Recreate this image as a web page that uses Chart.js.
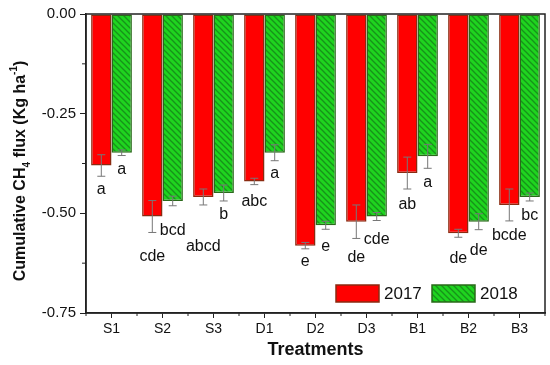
<!DOCTYPE html>
<html>
<head>
<meta charset="utf-8">
<script src="https://cdn.jsdelivr.net/npm/chart.js@4.4.1/dist/chart.umd.min.js"></script>
<style>
html,body{margin:0;padding:0;background:#fff;}
#wrap{width:550px;height:365px;}
</style>
</head>
<body>
<div id="wrap"><canvas id="c" width="550" height="365"></canvas></div>
<script>
// ---- data ----
const categories = ['S1','S2','S3','D1','D2','D3','B1','B2','B3'];
const seriesNames = ['2017','2018'];
const values2017 = [-0.380,-0.508,-0.459,-0.420,-0.581,-0.521,-0.399,-0.550,-0.479];
const values2018 = [-0.348,-0.469,-0.449,-0.348,-0.530,-0.508,-0.357,-0.521,-0.459];
const errors2017 = [0.027,0.040,0.020,0.008,0.008,0.042,0.040,0.010,0.040];
const errors2018 = [0.007,0.012,0.020,0.020,0.010,0.010,0.030,0.020,0.010];
const letters2017 = ['a','cde','abcd','abc','e','de','ab','de','bcde'];
const letters2018 = ['a','bcd','b','a','e','cde','a','de','bc'];
const yTicks = [0,-0.25,-0.5,-0.75];

// ---- hatch pattern ----
function makeHatch(){
  const s = 6;
  const p = document.createElement('canvas');
  p.width = s; p.height = s;
  const g = p.getContext('2d');
  g.fillStyle = '#1fd41f';
  g.fillRect(0,0,s,s);
  g.strokeStyle = '#17921a';
  g.lineWidth = 1.3;
  g.beginPath();
  g.moveTo(-1,-1); g.lineTo(s+1,s+1);
  g.moveTo(-1,s-1); g.lineTo(1,s+1);
  g.moveTo(s-1,-1); g.lineTo(s+1,1);
  g.stroke();
  return document.getElementById('c').getContext('2d').createPattern(p,'repeat');
}
const hatch = makeHatch();
const redFill = '#ff0000';
const redBorder = '#8a2a10';
const greenBorder = '#2a6a1a';

const FONT = "'Liberation Sans', Arial, sans-serif";

const extras = {
  id:'extras',
  afterDatasetsDraw(chart){
    const ctx = chart.ctx;
    const ca = chart.chartArea;
    const y = chart.scales.y, x = chart.scales.x;
    const errs = [errors2017, errors2018];
    const lets = [letters2017, letters2018];
    const gaps = [
      [13,24,42,17,13,19,16,21,15],
      [14,25,14,13,17,19,14,21,15]
    ];
    ctx.save();
    chart.data.datasets.forEach((ds,di)=>{
      const meta = chart.getDatasetMeta(di);
      meta.data.forEach((bar,i)=>{
        const v = ds.data[i], e = errs[di][i];
        const cx = bar.x;
        const yt = y.getPixelForValue(v+e), yb = y.getPixelForValue(v-e);
        ctx.strokeStyle = '#777';
        ctx.lineWidth = 1;
        ctx.beginPath();
        ctx.moveTo(cx,yt); ctx.lineTo(cx,yb);
        ctx.moveTo(cx-4,yt); ctx.lineTo(cx+4,yt);
        ctx.moveTo(cx-4,yb); ctx.lineTo(cx+4,yb);
        ctx.stroke();
        ctx.fillStyle = '#111';
        ctx.font = '16px ' + FONT;
        ctx.textAlign = 'center';
        ctx.textBaseline = 'middle';
        ctx.fillText(lets[di][i], cx, yb + gaps[di][i]);
      });
    });
    // frame
    ctx.strokeStyle = '#222';
    ctx.lineWidth = 1.5;
    ctx.strokeRect(ca.left, ca.top, ca.right-ca.left, ca.bottom-ca.top);
    // minor ticks
    ctx.lineWidth = 1;
    ctx.beginPath();
    for (let k=0;k<3;k++){
      const py = y.getPixelForValue(yTicks[k] - 0.125);
      ctx.moveTo(ca.left-4, py); ctx.lineTo(ca.left, py);
    }
    const step = x.getPixelForValue(1)-x.getPixelForValue(0);
    for (let i=0;i<=categories.length;i++){
      const px = x.getPixelForValue(i) - step/2;
      ctx.moveTo(px, ca.bottom); ctx.lineTo(px, ca.bottom+3);
    }
    ctx.stroke();
    // legend
    const items = [
      {fill:redFill, border:redBorder, label:seriesNames[0], x:336},
      {fill:hatch, border:greenBorder, label:seriesNames[1], x:432}
    ];
    items.forEach(it=>{
      ctx.fillStyle = it.fill;
      ctx.fillRect(it.x, 285, 43, 17);
      ctx.strokeStyle = it.border;
      ctx.lineWidth = 1.5;
      ctx.strokeRect(it.x, 285, 43, 17);
      ctx.fillStyle = '#111';
      ctx.font = '17px ' + FONT;
      ctx.textAlign = 'left';
      ctx.textBaseline = 'middle';
      ctx.fillText(it.label, it.x+48, 294);
    });
    // y title
    ctx.save();
    ctx.translate(21, 171);
    ctx.rotate(-Math.PI/2);
    ctx.fillStyle = '#111';
    ctx.textBaseline = 'middle';
    const parts = [
      {t:'Cumulative CH', f:'bold 16px ', dy:0},
      {t:'4', f:'bold 10px ', dy:6},
      {t:' flux (Kg ha', f:'bold 16px ', dy:0},
      {t:'-1', f:'bold 10px ', dy:-7},
      {t:')', f:'bold 16px ', dy:0}
    ];
    let total = 0;
    parts.forEach(p=>{ ctx.font = p.f + FONT; total += ctx.measureText(p.t).width; });
    let cx = -total/2;
    ctx.textAlign = 'left';
    parts.forEach(p=>{ ctx.font = p.f + FONT; ctx.fillText(p.t, cx, p.dy); cx += ctx.measureText(p.t).width; });
    ctx.restore();
    ctx.restore();
  }
};

new Chart(document.getElementById('c'), {
  type:'bar',
  data:{
    labels: categories,
    datasets:[
      {label:seriesNames[0], data:values2017, backgroundColor:redFill, borderColor:redBorder, borderWidth:1.5, borderSkipped:false},
      {label:seriesNames[1], data:values2018, backgroundColor:hatch, borderColor:greenBorder, borderWidth:1.5, borderSkipped:false}
    ]
  },
  options:{
    responsive:false,
    animation:false,
    layout:{padding:{left:0, top:14, right:5, bottom:0}},
    plugins:{legend:{display:false}, tooltip:{enabled:false}},
    datasets:{bar:{categoryPercentage:0.8, barPercentage:1.0}},
    scales:{
      x:{
        grid:{display:true, drawOnChartArea:false, offset:false, tickLength:5, color:'#222', lineWidth:1},
        border:{display:true, color:'#222', width:1.5},
        ticks:{color:'#111', font:{family:FONT, size:14}, padding:3},
        title:{display:true, text:'Treatments', color:'#111', font:{family:FONT, size:18, weight:'bold'}, padding:{top:3}},
        afterFit(s){ s.height = 52; }
      },
      y:{
        min:-0.75, max:0,
        afterBuildTicks(s){ s.ticks = yTicks.map(v=>({value:v})); },
        grid:{display:true, drawOnChartArea:false, tickLength:6, color:'#222', lineWidth:1},
        border:{display:true, color:'#222', width:1.5},
        ticks:{color:'#111', font:{family:FONT, size:15}, padding:4, callback:v=>Number(v).toFixed(2)},
        afterFit(s){ s.width = 86; }
      }
    }
  },
  plugins:[extras]
});
</script>
</body>
</html>
